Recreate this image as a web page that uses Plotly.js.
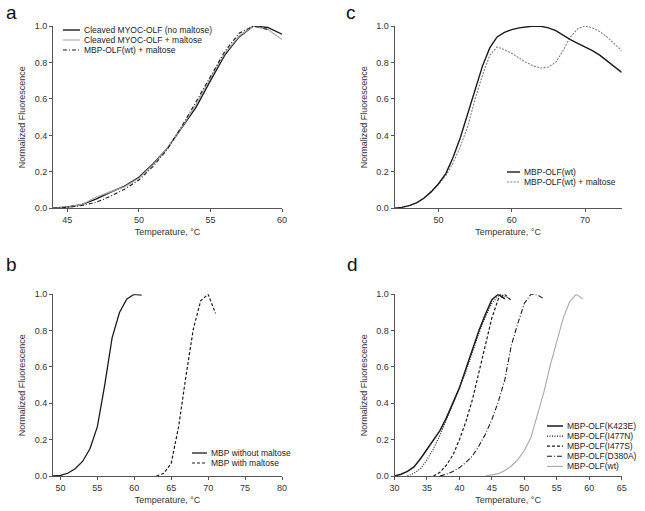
<!DOCTYPE html>
<html><head><meta charset="utf-8">
<script src="https://cdn.plot.ly/plotly-3.0.1.min.js"></script>
<style>html,body{margin:0;padding:0;background:#fff}#chart{width:645px;height:511px}</style>
</head><body><div id="chart"></div>
<script>
// ---------- DATA ----------
// Panel a
const tempA = [44,45,46,47,48,49,50,51,52,53,54,55,56,57,58,59,60];
const cleavedNoMaltose = [0.000,0.007,0.020,0.050,0.088,0.122,0.170,0.245,0.330,0.440,0.555,0.700,0.840,0.940,1.000,0.992,0.955];
const cleavedMaltose   = [0.000,0.006,0.020,0.060,0.090,0.118,0.165,0.240,0.330,0.445,0.570,0.715,0.850,0.945,1.000,0.982,0.925];
const tempA3 = [44,45,46,47,48,49,50,51,52,53,54,55,56,57,58,59];
const mbpWtMaltoseA = [0.000,0.005,0.015,0.032,0.065,0.105,0.155,0.230,0.325,0.450,0.585,0.725,0.860,0.960,1.000,0.980];
const namesA = ['Cleaved MYOC-OLF (no maltose)','Cleaved MYOC-OLF + maltose','MBP-OLF(wt) + maltose'];

// Panel c
const tempC = [44,45,46,47,48,49,50,51,52,53,54,55,56,57,58,59,60,61,62,63,64,65,66,67,68,69,70,71,72,73,74,75];
const mbpWtC = [0,0.005,0.015,0.03,0.055,0.09,0.135,0.19,0.28,0.39,0.52,0.655,0.78,0.88,0.94,0.965,0.98,0.99,0.997,1.0,0.998,0.99,0.975,0.95,0.925,0.905,0.885,0.865,0.84,0.81,0.78,0.745];
const mbpWtMaltoseC = [0,0.005,0.015,0.03,0.055,0.09,0.13,0.18,0.25,0.34,0.45,0.6,0.73,0.84,0.885,0.87,0.85,0.825,0.80,0.78,0.77,0.775,0.80,0.865,0.94,0.985,1.0,0.99,0.97,0.94,0.905,0.865];
const namesC = ['MBP-OLF(wt)','MBP-OLF(wt) + maltose'];

// Panel b
const tempB1 = [49,50,51,52,53,54,55,56,57,58,59,60,61];
const mbpNoMaltose = [0,0.003,0.015,0.04,0.08,0.15,0.27,0.50,0.76,0.90,0.975,1.0,0.995];
const tempB2 = [63,64,65,66,67,68,69,70,71];
const mbpWithMaltose = [0,0.015,0.07,0.27,0.55,0.81,0.965,1.0,0.895];
const namesB = ['MBP without maltose','MBP with maltose'];

// Panel d
const tempK = [30,31,32,33,34,35,36,37,38,39,40,41,42,43,44,45,46,47];
const k423e = [0,0.01,0.025,0.05,0.095,0.145,0.2,0.25,0.32,0.40,0.485,0.59,0.70,0.80,0.89,0.97,1.0,0.975];
const tempN = [32,33,34,35,36,37,38,39,40,41,42,43,44,45,46,46.5,47.5];
const i477n = [0,0.015,0.04,0.09,0.15,0.225,0.31,0.395,0.48,0.575,0.68,0.785,0.875,0.95,0.99,1.0,0.98];
const tempS = [36,37,38,39,40,41,42,43,44,45,46,47,48];
const i477s = [0,0.02,0.06,0.115,0.20,0.30,0.42,0.565,0.72,0.87,0.975,1.0,0.965];
const tempD = [37,38,39,40,41,42,43,44,45,46,47,48,49,50,51,52,53];
const d380a = [0,0.01,0.025,0.045,0.075,0.11,0.165,0.23,0.31,0.41,0.53,0.72,0.84,0.95,1.0,0.997,0.975];
const tempW = [44,45,46,47,48,49,50,51,52,53,54,55,56,57,58,59];
const wtD = [0,0.005,0.013,0.03,0.055,0.09,0.14,0.21,0.33,0.46,0.61,0.745,0.87,0.96,1.0,0.975];
const namesD = ['MBP-OLF(K423E)','MBP-OLF(I477N)','MBP-OLF(I477S)','MBP-OLF(D380A)','MBP-OLF(wt)'];

// ---------- STYLE ----------
const W = 645, H = 511;
const F = '"Liberation Sans", Arial, sans-serif';
const px = x => x / W, py = y => 1 - y / H;
const BLK = '#1a1a1a', GRY = '#a8a8a8', GRY2 = '#808080';

const sA = [{c:BLK,w:1.4,d:'solid'},{c:GRY,w:1.1,d:'solid'},{c:BLK,w:1.1,d:'4px,2px,1px,2px'}];
const sC = [{c:BLK,w:1.4,d:'solid'},{c:GRY2,w:1.1,d:'2px,1.3px'}];
const sB = [{c:BLK,w:1.3,d:'solid'},{c:BLK,w:1.2,d:'3px,2px'}];
const sD = [{c:BLK,w:1.5,d:'solid'},{c:BLK,w:1.1,d:'1px,1.5px'},{c:BLK,w:1.2,d:'3px,2px'},{c:BLK,w:1.1,d:'5px,2px,1px,2px'},{c:GRY,w:1.1,d:'solid'}];

function tr(x, y, ax, s, name) {
  return {x, y, type:'scatter', mode:'lines', name, xaxis:'x'+ax, yaxis:'y'+ax,
    line:{color:s.c, width:s.w, dash:s.d, shape:'linear'}, showlegend:false, hoverinfo:'skip'};
}

const data = [
  tr(tempA, cleavedNoMaltose, '', sA[0], namesA[0]),
  tr(tempA, cleavedMaltose, '', sA[1], namesA[1]),
  tr(tempA3, mbpWtMaltoseA, '', sA[2], namesA[2]),
  tr(tempC, mbpWtMaltoseC, '2', sC[1], namesC[1]),
  tr(tempC, mbpWtC, '2', sC[0], namesC[0]),
  tr(tempB1, mbpNoMaltose, '3', sB[0], namesB[0]),
  tr(tempB2, mbpWithMaltose, '3', sB[1], namesB[1]),
  tr(tempW, wtD, '4', sD[4], namesD[4]),
  tr(tempD, d380a, '4', sD[3], namesD[3]),
  tr(tempS, i477s, '4', sD[2], namesD[2]),
  tr(tempN, i477n, '4', sD[1], namesD[1]),
  tr(tempK, k423e, '4', sD[0], namesD[0]),
];

const axBase = () => ({showline:true, linecolor:'#555', linewidth:1, ticks:'outside', ticklen:3,
  tickwidth:1, tickcolor:'#555', showgrid:false, zeroline:false,
  tickfont:{family:F, size:9, color:'#333'}});
const xAx = (dom, range, dtick, tick0) => Object.assign(axBase(), {domain:dom, range, dtick, tick0,
  title:{text:'Temperature, °C', font:{family:F, size:9, color:'#333'}, standoff:4}});
const yAx = (dom, anchor) => Object.assign(axBase(), {domain:dom, range:[0,1], dtick:0.2, tickformat:'.1f',
  anchor, title:{text:'Normalized Fluorescence', font:{family:F, size:9, color:'#333'}, standoff:7}});

const colL = [px(53), px(282)], colR = [px(394.5), px(621.7)];
const rowT = [py(208.3), py(26)], rowB = [py(476), py(294.3)];

const layout = {
  width:W, height:H, margin:{l:0,r:0,t:0,b:0}, paper_bgcolor:'#fff', plot_bgcolor:'#fff',
  showlegend:false, font:{family:F, color:'#333'},
  xaxis: Object.assign(xAx(colL,[44,60],5,45), {anchor:'y'}),
  yaxis: yAx(rowT,'x'),
  xaxis2: Object.assign(xAx(colR,[44,75],10,50), {anchor:'y2'}),
  yaxis2: yAx(rowT,'x2'),
  xaxis3: Object.assign(xAx(colL,[49,80],5,50), {anchor:'y3'}),
  yaxis3: yAx(rowB,'x3'),
  xaxis4: Object.assign(xAx(colR,[30,65],5,30), {anchor:'y4'}),
  yaxis4: yAx(rowB,'x4'),
  shapes:[], annotations:[]
};

// panel letters
[['a',11,13],['c',351,13],['b',11,264],['d',352,264]].forEach(([t,x,y]) => {
  layout.annotations.push({text:t, x:px(x), y:py(y), xref:'paper', yref:'paper', xanchor:'center', yanchor:'middle',
    showarrow:false, font:{family:F, size:19, color:'#111'}});
});

// custom compact legends
function legend(names, styles, x0, x1, tx, y0, gap) {
  names.forEach((n, i) => {
    const y = y0 + i * gap;
    layout.shapes.push({type:'line', xref:'paper', yref:'paper', x0:px(x0), x1:px(x1), y0:py(y), y1:py(y),
      line:{color:styles[i].c, width:styles[i].w, dash:styles[i].d}});
    layout.annotations.push({text:n, x:px(tx), y:py(y), xref:'paper', yref:'paper', xanchor:'left', yanchor:'middle',
      showarrow:false, font:{family:F, size:8.5, color:'#222'}});
  });
}
legend(namesA, sA, 63, 80, 82, 30, 10);
legend(namesC, sC, 507, 520, 522, 172, 10);
legend(namesB, sB, 192, 207, 209, 453, 10);
legend(namesD, sD, 547, 563, 565, 426, 10.1);

Plotly.newPlot('chart', data, layout, {staticPlot:true, displayModeBar:false});
</script></body></html>
